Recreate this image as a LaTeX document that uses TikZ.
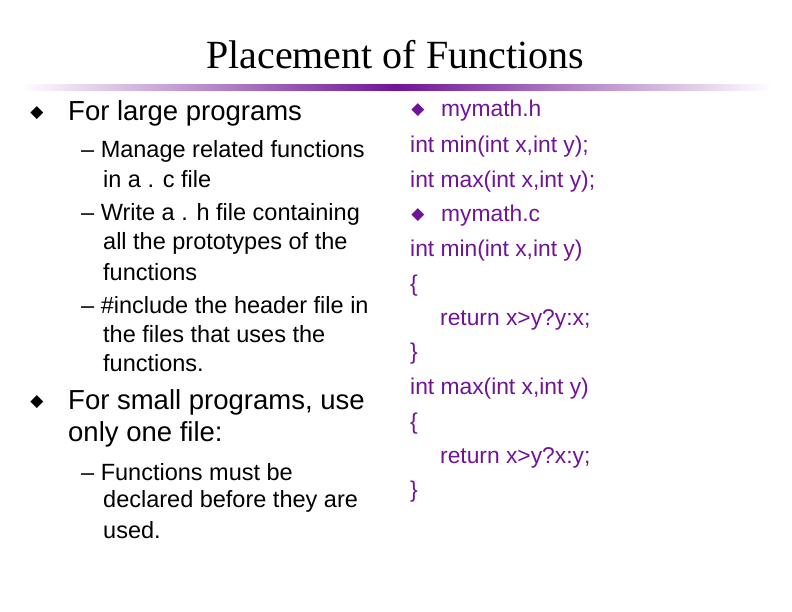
\documentclass[tikz,border=0pt]{standalone}
\usepackage{fontspec}
\setmainfont{Liberation Sans}
\newfontfamily\titlefont{Liberation Serif}
\newfontfamily\symfont{DejaVu Sans}
\definecolor{pur}{RGB}{112,20,150}
\begin{document}
\begin{tikzpicture}[x=1pt,y=-1pt,
  txt/.style={anchor=west,inner sep=0pt},
  big/.style={txt,font=\fontsize{27.5}{30}\selectfont},
  sub/.style={txt,font=\fontsize{23.5}{26}\selectfont},
  rt/.style={txt,font=\fontsize{22.8}{26}\selectfont,text=pur},
  bul/.style={inner sep=0pt,font=\symfont\fontsize{17}{18}\selectfont}]
\useasboundingbox (0,0) rectangle (792,612);
\node[font=\titlefont\fontsize{40}{44}\selectfont,inner sep=0pt] (title) at (395,55) {Placement of Functions};
\shade[left color=white,right color=pur] (20,85) rectangle (396,91);
\shade[left color=pur,right color=white] (396,85) rectangle (772,91);
\begin{scope}[yshift=-2.5pt]
% left column
\node[bul] (b1) at (37,111) {◆};
\node[big] (l1) at (68,111) {For large programs};
\node[sub] (s1) at (81,149) {– Manage related functions};
\node[sub] (s2) at (103,177) {in a . c file};
\node[sub] (s3) at (81,212) {– Write a . h file containing};
\node[sub] (s4) at (103,241) {all the prototypes of the};
\node[sub] (s5) at (103,270) {functions};
\node[sub] (s6) at (81,303) {– \#include the header file in};
\node[sub] (s7) at (103,332) {the files that uses the};
\node[sub] (s8) at (103,361) {functions.};
\node[bul] (b2) at (37,400) {◆};
\node[big] (l2) at (68,400) {For small programs, use};
\node[big] (l3) at (68,432) {only one file:};
\node[sub] (s9) at (81,470) {– Functions must be};
\node[sub] (s10) at (103,499) {declared before they are};
\node[sub] (s11) at (103,528) {used.};
% right column
\node[bul,text=pur] (b3) at (418,108) {◆};
\node[rt] (r1) at (441,108) {mymath.h};
\node[rt] (r2) at (410,144) {int min(int x,int y);};
\node[rt] (r3) at (410,179) {int max(int x,int y);};
\node[bul,text=pur] (b4) at (418,213) {◆};
\node[rt] (r4) at (441,213) {mymath.c};
\node[rt] (r5) at (410,248) {int min(int x,int y)};
\node[rt] (r6) at (410,283) {\{};
\node[rt] (r7) at (440,317) {return x>y?y:x;};
\node[rt] (r8) at (410,351) {\}};
\node[rt] (r9) at (410,386) {int max(int x,int y)};
\node[rt] (r10) at (410,421) {\{};
\node[rt] (r11) at (440,455) {return x>y?x:y;};
\node[rt] (r12) at (410,489) {\}};
\end{scope}
\end{tikzpicture}
\end{document}
